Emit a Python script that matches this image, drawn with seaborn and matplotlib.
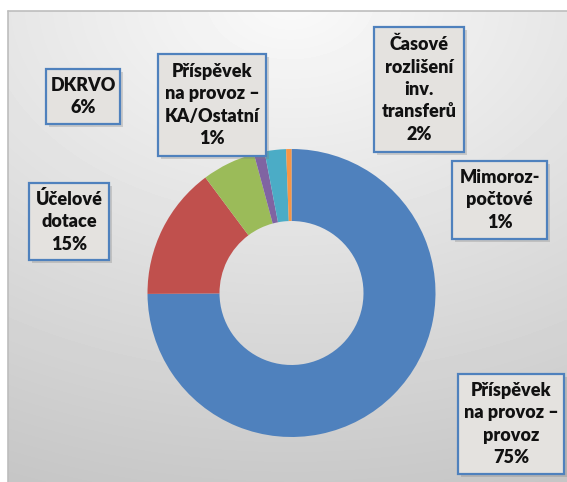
import numpy as np
import matplotlib
matplotlib.use("Agg")
import matplotlib.pyplot as plt
import seaborn as sns
from matplotlib.patches import Rectangle
from matplotlib.lines import Line2D

# ---- data ----
categories = ["Příspěvek na provoz – provoz", "Účelové dotace", "DKRVO",
              "Příspěvek na provoz – KA/Ostatní", "Časové rozlišení inv. transferů",
              "Mimorozpočtové"]
label_lines = ["Příspěvek\nna provoz –\nprovoz", "Účelové\ndotace", "DKRVO",
               "Příspěvek\nna provoz –\nKA/Ostatní", "Časové\nrozlišení\ninv.\ntransferů",
               "Mimoroz-\npočtové"]
shares = [74.9, 14.9, 6.0, 1.2, 2.4, 0.6]
colors = ["#4F81BD", "#C0504D", "#9BBB59", "#8064A2", "#4BACC6", "#F79646"]

# label box layout (pixels: x0, y0, x1, y1)
boxes = [(458, 374, 564, 474), (29, 183, 109, 260), (46, 69, 120, 124),
         (158, 54, 266, 156), (374, 27, 464, 152), (452, 161, 547, 239)]

W, H = 567, 482
sns.set_style("white")
plt.rcParams['font.family'] = ['Lato', 'DejaVu Sans']

fig = plt.figure(figsize=(W / 100, H / 100), dpi=100)
fig.patch.set_facecolor('white')


def fx(px):
    return px / W


def fy(py):
    return 1 - py / H


# background gradient of chart area
bg = fig.add_axes([fx(8), 0, 1 - fx(8), 1 - 11 / H])
bg.set_axis_off()
yy, xx = np.mgrid[11:482, 8:567]
d = np.sqrt((xx - 290) ** 2 + (yy / 0.7) ** 2)
val = np.clip(250 - 0.071 * d, 195, 252) / 255
bg.imshow(val, cmap='gray', vmin=0, vmax=1, aspect='auto', extent=[0, 1, 0, 1],
          interpolation='bilinear')
fig.add_artist(Line2D([fx(8), fx(8)], [fy(11), 0], color='#BDBDBD', lw=1.2,
                      transform=fig.transFigure))
fig.add_artist(Line2D([fx(8), 1], [fy(11), fy(11)], color='#BDBDBD', lw=1.2,
                      transform=fig.transFigure))

# donut
cx, cy, r = 291.5, 293, 144
ax = fig.add_axes([fx(cx - r), fy(cy + r), 2 * r / W, 2 * r / H])
ax.pie(shares, colors=colors, startangle=90, counterclock=False, radius=1,
       wedgeprops=dict(width=0.5, edgecolor='none', linewidth=0))
ax.set_xlim(-1, 1)
ax.set_ylim(-1, 1)
ax.patch.set_alpha(0)

# labels
for lab, v, (x0, y0, x1, y1) in zip(label_lines, shares, boxes):
    w, h = fx(x1) - fx(x0), fy(y0) - fy(y1)
    fig.add_artist(Rectangle((fx(x0 + 3), fy(y1 + 3)), w, h, transform=fig.transFigure,
                             facecolor='#808080', alpha=0.3, edgecolor='none'))
    fig.add_artist(Rectangle((fx(x0), fy(y1)), w, h, transform=fig.transFigure,
                             facecolor='#E4E2DF', edgecolor='#4F81BD', lw=1.6))
    pct = int(np.floor(v + 0.5))
    fig.text((fx(x0) + fx(x1)) / 2, (fy(y0) + fy(y1)) / 2, f"{lab}\n{pct}%",
             ha='center', va='center', fontsize=13, fontweight='heavy',
             linespacing=1.38, color='#111111')

fig.savefig("out.png", dpi=100)
